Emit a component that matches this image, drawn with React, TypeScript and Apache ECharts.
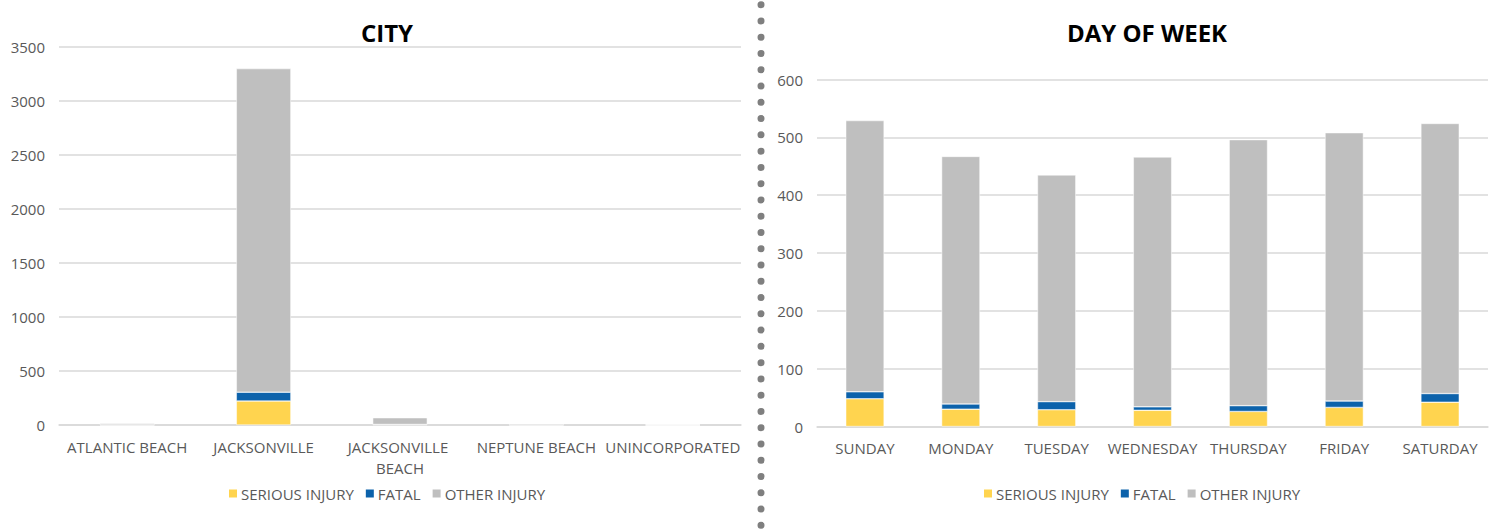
import React, { useEffect, useRef } from "react";
import * as echarts from "echarts";

const cities = ["ATLANTIC BEACH", "JACKSONVILLE", "JACKSONVILLE BEACH", "NEPTUNE BEACH", "UNINCORPORATED"];
const citySerious = [1, 222, 4, 1, 0];
const cityFatal = [0, 82, 1, 0, 0];
const cityOther = [12, 2996, 62, 10, 2];

const days = ["SUNDAY", "MONDAY", "TUESDAY", "WEDNESDAY", "THURSDAY", "FRIDAY", "SATURDAY"];
const daySerious = [48, 30, 29, 28, 26, 33, 42];
const dayFatal = [12, 9, 14, 6, 10, 11, 15];
const dayOther = [469, 428, 392, 432, 460, 464, 467];

const cityTicks = { min: 0, max: 3500, interval: 500 };
const dayTicks = { min: 0, max: 600, interval: 100 };

const seriesNames = ["SERIOUS INJURY", "FATAL", "OTHER INJURY"];
const colors = ["#FFD44F", "#0C62AB", "#BFBFBF"];

const FONT = "'Open Sans', sans-serif";
const TXT = "#595959";

export default function App() {
  const ref = useRef<HTMLDivElement>(null);
  useEffect(() => {
    if (!ref.current) return;
    const chart = echarts.init(ref.current, null, { renderer: "svg" });
    const axisY = (gi: number, t: any) => ({
      type: "value",
      gridIndex: gi,
      min: t.min,
      max: t.max,
      interval: t.interval,
      axisLine: { show: false },
      axisTick: { show: false },
      axisLabel: { color: TXT, fontSize: 15, fontFamily: FONT, margin: 14, formatter: (v: number) => String(v) },
      splitLine: { lineStyle: { color: "#D9D9D9", width: 1.5 } },
    });
    const axisX = (gi: number, cats: string[], w: number) => ({
      type: "category",
      gridIndex: gi,
      data: cats,
      axisLine: { lineStyle: { color: "#D9D9D9", width: 1.5 } },
      axisTick: { show: false },
      axisLabel: {
        color: TXT,
        fontSize: 15,
        fontFamily: FONT,
        interval: 0,
        margin: 11,
        width: w,
        overflow: "break",
        lineHeight: 21,
      },
    });
    const mk = (gi: number, name: string, data: number[], c: string, stack: string) => ({
      type: "bar",
      name,
      xAxisIndex: gi,
      yAxisIndex: gi,
      stack,
      data,
      barWidth: "40%",
      itemStyle: { color: c, borderColor: "#ffffff", borderWidth: 0.5 },
    });
    const legend = (left: number) => ({
      data: seriesNames.map((n) => ({ name: n })),
      left,
      top: 481,
      itemWidth: 10,
      itemHeight: 10,
      itemGap: 10,
      icon: "rect",
      textStyle: { color: TXT, fontSize: 15, fontFamily: FONT, padding: [0, 0, 0, -2] },
    });
    chart.setOption({
      animation: false,
      backgroundColor: "#ffffff",
      title: [
        { text: "CITY", left: 382, top: 15, textAlign: "center", textStyle: { fontFamily: FONT, fontSize: 24, fontWeight: "bold", color: "#000" } },
        { text: "DAY OF WEEK", left: 1142, top: 15, textAlign: "center", textStyle: { fontFamily: FONT, fontSize: 24, fontWeight: "bold", color: "#000" } },
      ],
      legend: [legend(222), legend(977)],
      grid: [
        { left: 59, top: 47, width: 682, height: 378 },
        { left: 817, top: 79.5, width: 671, height: 347 },
      ],
      xAxis: [axisX(0, cities, 136), axisX(1, days, 96)],
      yAxis: [axisY(0, cityTicks), axisY(1, dayTicks)],
      series: [
        mk(0, seriesNames[0], citySerious, colors[0], "c"),
        mk(0, seriesNames[1], cityFatal, colors[1], "c"),
        mk(0, seriesNames[2], cityOther, colors[2], "c"),
        mk(1, seriesNames[0], daySerious, colors[0], "d"),
        mk(1, seriesNames[1], dayFatal, colors[1], "d"),
        mk(1, seriesNames[2], dayOther, colors[2], "d"),
      ],
      graphic: [
        {
          type: "line",
          shape: { x1: 761, y1: 4.7, x2: 761, y2: 526 },
          style: { stroke: "#7F7F7F", lineWidth: 7, lineDash: [0, 16.27], lineCap: "round" },
          silent: true,
        },
      ],
    });
    return () => chart.dispose();
  }, []);
  return <div ref={ref} style={{ position: "absolute", left: 0, top: 0, width: 1492, height: 529 }} />;
}
